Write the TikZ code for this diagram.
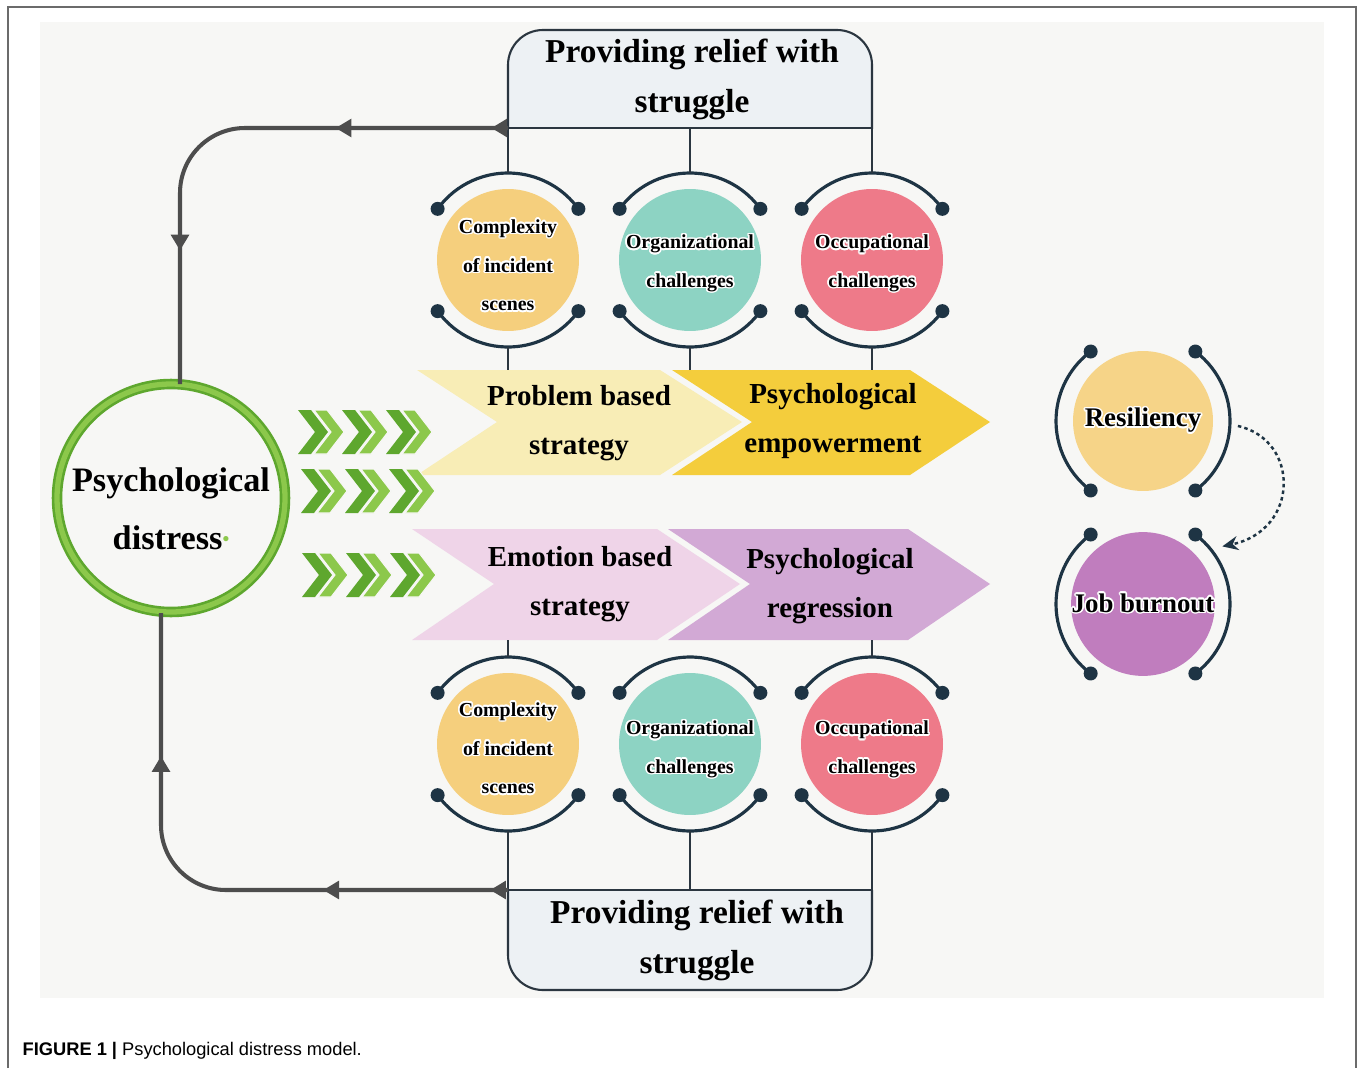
\documentclass[tikz,border=0pt]{standalone}
\usepackage{fontspec}
\setmainfont{Liberation Serif}
\newfontfamily\capfont{Liberation Sans}
\usepackage[copies]{contour}
\contourlength{0.9pt}
\usetikzlibrary{arrows.meta,decorations.markings,calc}

\definecolor{ink}{HTML}{1E3444}
\definecolor{boxline}{HTML}{2B3640}
\definecolor{boxfill}{HTML}{EDF1F4}
\definecolor{loopgrey}{HTML}{4D4D4D}
\definecolor{paper}{HTML}{F7F7F5}
\definecolor{frame}{HTML}{6B6B6B}
\definecolor{sand}{HTML}{F5CF7D}
\definecolor{mint}{HTML}{8DD3C3}
\definecolor{rose}{HTML}{EE7A89}
\definecolor{honey}{HTML}{F6D488}
\definecolor{plum}{HTML}{C07DBE}
\definecolor{cream}{HTML}{F8EDB6}
\definecolor{gold}{HTML}{F4CD3C}
\definecolor{blush}{HTML}{EFD4E8}
\definecolor{lilac}{HTML}{D2A9D5}
\definecolor{leafdark}{HTML}{5EA72E}
\definecolor{leaf}{HTML}{8CC84B}

\newcommand{\halo}[1]{\contour{white}{#1}}

\tikzset{
  every picture/.style={line width=0.75pt},
  relief/.style={draw=boxline, fill=boxfill, line width=1.2pt},
  relieftext/.style={align=center, font=\bfseries\fontsize{19}{28.5}\selectfont},
  topic/.style={circle, inner sep=0pt, minimum size=2.84cm},
  topictext/.style={align=center, font=\bfseries\fontsize{11.3}{22}\selectfont},
  outcome/.style={circle, inner sep=0pt, minimum size=2.8cm,
    font=\bfseries\fontsize{15.3}{18}\selectfont},
  stage/.style={align=center, font=\bfseries\fontsize{16.5}{28}\selectfont},
  ring/.style={draw=ink, line width=1.8pt},
  stem/.style={draw=boxline, line width=1.3pt},
  loopline/.style={draw=loopgrey, line width=2.3pt, rounded corners=1.3cm}
}

\begin{document}
\begin{tikzpicture}[x=0.02cm, y=-0.02cm]
    \useasboundingbox (0,0) rectangle (1358,1068);

    % frame and panel
    \draw[frame, line width=1.1pt] (8,1068) -- (8,7) -- (1356,7) -- (1356,1068);
    \fill[paper] (40,22) rectangle (1324,998);

    % top and bottom boxes
    \coordinate (tbL) at (508,128);
    \coordinate (tbR) at (872,128);
    \coordinate (bbL) at (508,890);
    \coordinate (bbR) at (872,890);
    \begin{scope}
        \clip (500,20) rectangle (880,128);
        \filldraw[relief, rounded corners=0.7cm] (508,30) rectangle (872,200);
    \end{scope}
    \draw[relief] (tbL) -- (tbR);
    \begin{scope}
        \clip (500,890) rectangle (880,1000);
        \filldraw[relief, rounded corners=0.7cm] (508,820) rectangle (872,990);
    \end{scope}
    \draw[relief] (bbL) -- (bbR);
    \node[relieftext] (relieftop) at (692,79) {Providing relief with\\struggle};
    \node[relieftext] (reliefbot) at (697,940) {Providing relief with\\struggle};

    % strategy arrows
    \fill[cream] (417,370) -- (660,370) -- (742,422) -- (660,475) -- (417,475) -- (497,422) -- cycle;
    \fill[gold] (672,370) -- (910,370) -- (990,422) -- (910,475) -- (672,475) -- (752,422) -- cycle;
    \fill[blush] (412,529) -- (657,529) -- (740,584) -- (657,640) -- (412,640) -- (494,584) -- cycle;
    \fill[lilac] (668,529) -- (908,529) -- (990,584) -- (908,640) -- (668,640) -- (750,584) -- cycle;
    \coordinate (rowA) at (0,370);
    \coordinate (rowB) at (0,640);
    \node[stage] (pbs) at (579,423) {Problem based\\strategy};
    \node[stage] (emp) at (833,421) {Psychological\\empowerment};
    \node[stage] (ebs) at (580,584) {Emotion based\\strategy};
    \node[stage] (reg) at (830,586) {Psychological\\regression};

    % factor circles
    \node[topic, fill=sand] (cx1) at (508,260) {};
    \node[topic, fill=mint] (or1) at (690,260) {};
    \node[topic, fill=rose] (oc1) at (872,260) {};
    \node[topic, fill=sand] (cx2) at (508,744) {};
    \node[topic, fill=mint] (or2) at (690,744) {};
    \node[topic, fill=rose] (oc2) at (872,744) {};
    \foreach \c in {cx1,or1,oc1,cx2,or2,oc2}{
        \draw[ring] ($(\c)+(216:87)$) arc[start angle=216, end angle=324, radius=87];
        \draw[ring] ($(\c)+(144:87)$) arc[start angle=144, end angle=36, radius=87];
        \foreach \a in {216,324,144,36}
            \fill[ink] ($(\c)+(\a:87)$) circle[radius=7];
    }
    \node[topictext] (cx1t) at ($(cx1)+(0,6)$) {\halo{Complexity}\\\halo{of incident}\\\halo{scenes}};
    \node[topictext] (or1t) at ($(or1)+(0,4)$) {\halo{Organizational}\\\halo{challenges}};
    \node[topictext] (oc1t) at ($(oc1)+(0,4)$) {\halo{Occupational}\\\halo{challenges}};
    \node[topictext] (cx2t) at ($(cx2)+(0,5)$) {\halo{Complexity}\\\halo{of incident}\\\halo{scenes}};
    \node[topictext] (or2t) at ($(or2)+(0,6)$) {\halo{Organizational}\\\halo{challenges}};
    \node[topictext] (oc2t) at ($(oc2)+(0,6)$) {\halo{Occupational}\\\halo{challenges}};

    % stems
    \draw[stem] (tbL) -- ($(cx1)+(270:87)$);
    \draw[stem] (or1 |- tbL) -- ($(or1)+(270:87)$);
    \draw[stem] (tbR) -- ($(oc1)+(270:87)$);
    \foreach \c in {cx1,or1,oc1}
        \draw[stem] ($(\c)+(90:87)$) -- (\c |- rowA);
    \draw[stem] (cx2 |- rowB) -- ($(cx2)+(270:87)$);
    \draw[stem] (oc2 |- rowB) -- ($(oc2)+(270:87)$);
    \draw[stem] ($(cx2)+(90:87)$) -- (bbL);
    \draw[stem] ($(or2)+(90:87)$) -- (or2 |- bbL);
    \draw[stem] ($(oc2)+(90:87)$) -- (bbR);

    % psychological distress
    \node[circle, minimum size=4.5cm, align=center,
          font=\bfseries\fontsize{19.5}{33}\selectfont] (dist) at (171,509)
          {Psychological\\distress\raisebox{0.25ex}{\textcolor{leaf}{\fontsize{11}{11}\selectfont\textbullet}}};
    \draw[leafdark, line width=6pt] (171,498) circle[radius=114];
    \draw[leaf, line width=3pt] (171,498) circle[radius=114];

    % feedback loops
    \coordinate (dtop) at (180,384);
    \coordinate (dbot) at (161,613);
    \draw[loopline, postaction={decorate}, decoration={markings,
            mark=at position 0.03 with {\arrow{Triangle[length=9pt,width=10pt]}},
            mark=at position 0.31 with {\arrow{Triangle[length=9pt,width=10pt]}},
            mark=at position 0.76 with {\arrow{Triangle[length=9pt,width=10pt]}}}]
        (tbL) -- (dtop |- tbL) -- (dtop);
    \draw[loopline, postaction={decorate}, decoration={markings,
            mark=at position 0.03 with {\arrow{Triangle[length=9pt,width=10pt]}},
            mark=at position 0.31 with {\arrow{Triangle[length=9pt,width=10pt]}},
            mark=at position 0.76 with {\arrow{Triangle[length=9pt,width=10pt]}}}]
        (bbL) -- (dbot |- bbL) -- (dbot);

    % green chevrons
    \foreach \y/\x in {432/298, 491/301, 575/302}
        \foreach \k in {0,44,88}{
            \fill[leafdark] (\x+\k,\y-22) -- (\x+\k+13,\y-22) -- (\x+\k+30,\y)
                -- (\x+\k+13,\y+22) -- (\x+\k,\y+22) -- (\x+\k+17,\y) -- cycle;
            \filldraw[fill=leaf, draw=paper, line width=0.6pt]
                (\x+\k+16,\y-22) -- (\x+\k+29,\y-22) -- (\x+\k+46,\y)
                -- (\x+\k+29,\y+22) -- (\x+\k+16,\y+22) -- (\x+\k+33,\y) -- cycle;
        }

    % resiliency and burnout
    \node[outcome, fill=honey] (res) at (1143,421) {\halo{Resiliency}};
    \node[outcome, fill=plum] (jb) at (1143,604) {\halo{Job burnout}};
    \foreach \c in {res,jb}{
        \draw[ring] ($(\c)+(-53:87)$) arc[start angle=-53, end angle=53, radius=87];
        \draw[ring] ($(\c)+(127:87)$) arc[start angle=127, end angle=233, radius=87];
        \foreach \a in {-53,53,127,233}
            \fill[ink] ($(\c)+(\a:87)$) circle[radius=7];
    }
    \draw[ink, line width=1.4pt, dash pattern=on 2pt off 1.8pt, -{Stealth[length=9pt,width=8pt]}]
        ($(res)+(3:95)$) .. controls (1300,440) and (1300,530) .. ($(jb)+(-36:98)$);

    % caption
    \node[anchor=base west, inner sep=0pt, font=\capfont\fontsize{10.4}{12}\selectfont] (cap) at (22,1055)
        {\textbf{FIGURE 1 |} Psychological distress model.};
\end{tikzpicture}
\end{document}
